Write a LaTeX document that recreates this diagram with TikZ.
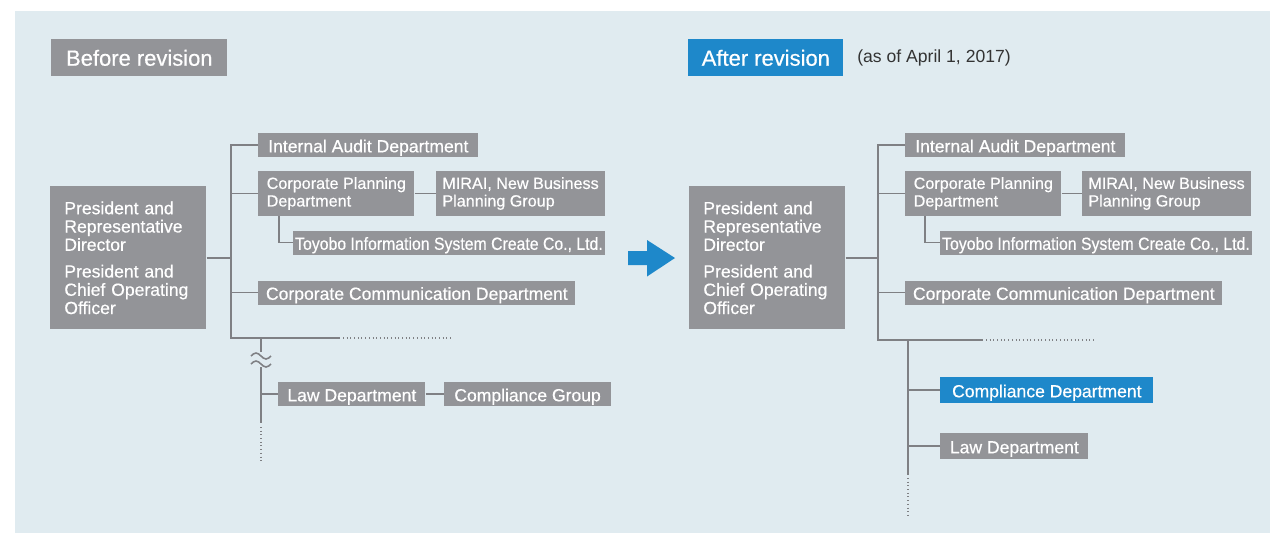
\documentclass[tikz,border=0pt]{standalone}
\usepackage{fontspec}
\setmainfont{Liberation Sans}
\newfontfamily\boxfont{Liberation Sans}[FakeBold=0.5]
\usetikzlibrary{positioning}
\definecolor{revbg}{HTML}{E0EBF0}
\definecolor{revgray}{HTML}{939498}
\definecolor{revline}{HTML}{7F8084}
\definecolor{revblue}{HTML}{1E88CA}
\definecolor{revink}{HTML}{333333}

\begin{document}
\begin{tikzpicture}[x=0.2mm,y=-0.2mm,
  box/.style={fill=revgray,text=white,font=\boxfont\fontsize{10}{10}\selectfont,
    inner xsep=1pt,inner ysep=0pt,minimum height=4.8mm,anchor=west,align=left,
    text height=9.3pt,text depth=1pt},
  wd/.style={minimum width=#1*0.2mm},
  two/.style={minimum height=9mm,font=\boxfont\fontsize{9.2}{10}\selectfont,
    text height={},text depth={}},
  hibox/.style={box,fill=revblue,minimum height=5.2mm},
  tag/.style={fill=revgray,text=white,font=\boxfont\fontsize{12.5}{14}\selectfont,
    inner xsep=0pt,minimum height=7.4mm,anchor=north west},
  pres/.style={fill=revgray,text=white,font=\boxfont\fontsize{10}{10.4}\selectfont,
    align=left,anchor=north west,inner xsep=2.8mm,inner ysep=0pt,
    text width=25.6mm,minimum height=28.6mm},
  conn/.style={revline,line width=1.1pt},
  dotln/.style={revline,line width=1pt,dash pattern=on 0.5pt off 1.6pt}]
\path[use as bounding box] (0,0) rectangle (1270,533);
\fill[white] (0,0) rectangle (1270,533);
\fill[revbg] (15,11) rectangle (1270,533);

% titles
\node[tag,minimum width=35.2mm] (before) at (51,39) {Before revision};
\node[tag,minimum width=31mm,fill=revblue] (after) at (688,39) {After revision};
\node[anchor=west,inner sep=0pt,text=revink,font=\fontsize{10}{12}\selectfont] (asof) at (857,58) {(as of April 1, 2017)};

% before revision
\node[pres] (presL) at (50,186) {President and\\Representative\\Director\\[4.8pt]President and\\Chief Operating\\Officer};
\node[box,wd=220] (auditL) at (258,145) {Internal Audit Department};
\node[box,wd=156,two] (planL) at (258,193.5) {Corporate Planning\\Department};
\node[box,wd=169,two,right=4.2mm of planL] (miraiL) {MIRAI, New Business\\Planning Group};
\node[box,wd=311] (toyoL) at (293,242.5) {\scalebox{0.9}[1]{Toyobo Information System Create Co., Ltd.}};
\node[box,wd=317] (commL) at (258,292.5) {Corporate Communication Department};
\node[box,wd=147] (lawL) at (278,394) {Law Department};
\node[box,wd=167,right=3.6mm of lawL] (compL) {Compliance Group};

\coordinate (trunkL) at (231,338);
\coordinate (dotL) at (340,338);
\coordinate (dotLend) at (452,338);
\coordinate (subL) at (261,338);
\coordinate (brkA) at (261,352);
\coordinate (brkB) at (261,367);
\coordinate (subLend) at (261,423);
\coordinate (subLdot) at (261,463);
\draw[conn] (auditL.west) -| (trunkL) -- (dotL);
\draw[dotln] (dotL) ++(3,0) -- (dotLend);
\draw[conn] (presL.east) -- (presL.east -| trunkL);
\draw[conn] (planL.west) -- (planL.west -| trunkL);
\draw[conn] (commL.west) -- (commL.west -| trunkL);
\draw[conn] (planL) -- (miraiL);
\draw[conn] ([xshift=4.2mm]planL.south west) |- (toyoL.west);
\draw[conn] (subL) -- (brkA);
\draw[conn] (brkB) -- (subLend);
\foreach \y in {356,364}
  \draw[conn,line width=0.9pt] (251,\y) sin (256,\y-3) cos (261,\y) sin (266,\y+3) cos (271,\y);
\draw[conn] (lawL.west) -- (lawL.west -| subL);
\draw[conn] (lawL) -- (compL);
\draw[dotln] (subLend) ++(0,4) -- (subLdot);

% arrow
\fill[revblue] (628,251) -- (647,251) -- (647,240) -- (675,258) -- (647,276.5) -- (647,265) -- (628,265) -- cycle;

% after revision
\node[pres] (presR) at (689,186) {President and\\Representative\\Director\\[4.8pt]President and\\Chief Operating\\Officer};
\node[box,wd=220] (auditR) at (905,145) {Internal Audit Department};
\node[box,wd=156,two] (planR) at (905,193.5) {Corporate Planning\\Department};
\node[box,wd=169,two,right=4mm of planR] (miraiR) {MIRAI, New Business\\Planning Group};
\node[box,wd=310] (toyoR) at (940,242.5) {\scalebox{0.9}[1]{Toyobo Information System Create Co., Ltd.}};
\node[box,wd=317] (commR) at (905,292.5) {Corporate Communication Department};
\node[hibox,wd=213] (compR) at (940,390) {Compliance Department};
\node[box,wd=148,minimum height=5.2mm] (lawR) at (940,446) {Law Department};

\coordinate (trunkR) at (878,340);
\coordinate (dotR) at (983,340);
\coordinate (dotRend) at (1095,340);
\coordinate (subR) at (908,340);
\coordinate (subRend) at (908,475);
\coordinate (subRdot) at (908,517);
\draw[conn] (auditR.west) -| (trunkR) -- (dotR);
\draw[dotln] (dotR) ++(3,0) -- (dotRend);
\draw[conn] (presR.east) -- (presR.east -| trunkR);
\draw[conn] (planR.west) -- (planR.west -| trunkR);
\draw[conn] (commR.west) -- (commR.west -| trunkR);
\draw[conn] (planR) -- (miraiR);
\draw[conn] ([xshift=4mm]planR.south west) |- (toyoR.west);
\draw[conn] (subR) -- (subRend);
\draw[conn] (compR.west) -- (compR.west -| subR);
\draw[conn] (lawR.west) -- (lawR.west -| subR);
\draw[dotln] (subRend) ++(0,3) -- (subRdot);
\end{tikzpicture}
\end{document}
